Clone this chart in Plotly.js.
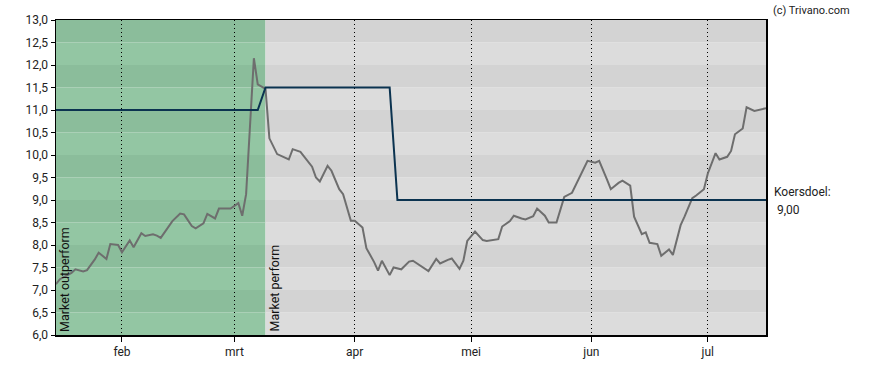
<!DOCTYPE html>
<html><head><meta charset="utf-8">
<script src="https://cdn.plot.ly/plotly-3.0.1.min.js"></script>
<style>html,body{margin:0;padding:0;background:#fff}#chart{width:888px;height:370px}</style>
</head><body><div id="chart"></div>
<script>
const priceDates = ['2024-01-15','2024-01-16','2024-01-19','2024-01-20','2024-01-22','2024-01-23','2024-01-25','2024-01-26','2024-01-28','2024-01-29','2024-01-31',
'2024-02-01','2024-02-03','2024-02-04','2024-02-06','2024-02-07','2024-02-09','2024-02-10','2024-02-11','2024-02-13','2024-02-14','2024-02-16','2024-02-17','2024-02-19','2024-02-20','2024-02-22','2024-02-23','2024-02-25','2024-02-26','2024-02-29',
'2024-03-02','2024-03-03','2024-03-04','2024-03-06','2024-03-07','2024-03-09','2024-03-10','2024-03-12','2024-03-15','2024-03-16','2024-03-18','2024-03-21','2024-03-22','2024-03-23','2024-03-25','2024-03-26','2024-03-28','2024-03-29','2024-03-31',
'2024-04-01','2024-04-03','2024-04-04','2024-04-06','2024-04-07','2024-04-08','2024-04-10','2024-04-11','2024-04-13','2024-04-15','2024-04-16','2024-04-17','2024-04-19','2024-04-20','2024-04-22','2024-04-23','2024-04-25','2024-04-26','2024-04-28','2024-04-29','2024-04-30',
'2024-05-02','2024-05-04','2024-05-05','2024-05-08','2024-05-09','2024-05-11','2024-05-12','2024-05-14','2024-05-15','2024-05-17','2024-05-18','2024-05-20','2024-05-21','2024-05-23','2024-05-24','2024-05-25','2024-05-27','2024-05-29','2024-05-31',
'2024-06-02','2024-06-03','2024-06-05','2024-06-06','2024-06-08','2024-06-09','2024-06-11','2024-06-12','2024-06-14','2024-06-15','2024-06-16','2024-06-18','2024-06-19','2024-06-21','2024-06-22','2024-06-24','2024-06-25','2024-06-27','2024-06-28','2024-06-30',
'2024-07-01','2024-07-03','2024-07-04','2024-07-06','2024-07-07','2024-07-08','2024-07-10','2024-07-11','2024-07-13','2024-07-16'];
const priceValues = [7.13,7.24,7.38,7.46,7.41,7.44,7.68,7.83,7.69,8.02,8.00,
7.84,8.10,7.95,8.26,8.20,8.24,8.21,8.16,8.42,8.53,8.70,8.68,8.42,8.37,8.48,8.69,8.59,8.81,8.81,
8.93,8.65,9.13,12.15,11.57,11.47,10.37,10.02,9.90,10.13,10.07,9.74,9.50,9.41,9.76,9.65,9.24,9.13,8.54,
8.54,8.39,7.93,7.62,7.43,7.65,7.33,7.50,7.46,7.63,7.65,7.59,7.46,7.42,7.69,7.59,7.67,7.70,7.47,7.65,8.09,
8.30,8.11,8.09,8.13,8.41,8.53,8.65,8.59,8.57,8.64,8.81,8.65,8.50,8.50,8.78,9.07,9.16,9.52,9.87,
9.83,9.87,9.46,9.24,9.38,9.43,9.32,8.63,8.24,8.28,8.05,8.02,7.76,7.90,7.78,8.44,8.63,9.04,9.10,9.24,
9.59,10.04,9.90,9.96,10.09,10.46,10.59,11.06,10.98,11.04];
const targetDates = ['2024-01-15','2024-03-07','2024-03-09','2024-04-10','2024-04-12','2024-07-16'];
const targetValues = [11.0,11.0,11.5,11.5,9.0,9.0];
const ratingStarts = ['2024-01-15','2024-03-09'];
const ratingEnds = ['2024-03-09','2024-07-16'];
const ratingLabels = ['Market outperform','Market perform'];
const monthTickDates = ['2024-02-01','2024-03-01','2024-04-01','2024-05-01','2024-06-01','2024-07-01'];
const monthTickLabels = ['feb','mrt','apr','mei','jun','jul'];
const yTickValues = [6,6.5,7,7.5,8,8.5,9,9.5,10,10.5,11,11.5,12,12.5,13];
const targetLabel = 'Koersdoel:';
const targetText = '9,00';
const creditText = '(c) Trivano.com';

const bandColors = [
  {light:'#93c6a3', dark:'#8bbd9b'},
  {light:'#dcdcdc', dark:'#d3d3d3'}
];
const shapes = [];
ratingStarts.forEach((s,i)=>{
  for (let k=0;k<yTickValues.length-1;k++){
    const y0=yTickValues[k], y1=yTickValues[k+1];
    shapes.push({type:'rect',layer:'below',xref:'x',yref:'y',x0:s,x1:ratingEnds[i],y0:y0,y1:y1,
      fillcolor:(k%2===1)?bandColors[i].dark:bandColors[i].light,line:{width:0}});
  }
});
const annotations = ratingLabels.map((t,i)=>({
  text:t, xref:'x', yref:'y', x:ratingStarts[i], y:6, xanchor:'left', yanchor:'bottom',
  textangle:-90, showarrow:false, xshift:-1, yshift:1, font:{family:'Roboto, sans-serif',size:12.5,color:'#111'}
}));
annotations.push({text:targetLabel,xref:'paper',yref:'y',x:1,y:9.0,xanchor:'left',yanchor:'middle',xshift:6,yshift:8,showarrow:false,font:{family:'Roboto, sans-serif',size:12,color:'#222'}});
annotations.push({text:targetText,xref:'paper',yref:'y',x:1,y:9.0,xanchor:'left',yanchor:'middle',xshift:9,yshift:-10,showarrow:false,font:{family:'Roboto, sans-serif',size:12,color:'#222'}});
annotations.push({text:creditText,xref:'paper',yref:'paper',x:1,y:1,xanchor:'left',yanchor:'bottom',xshift:5,yshift:1,showarrow:false,font:{family:'Roboto, sans-serif',size:11,color:'#222'}});

const data = [
  {x:priceDates,y:priceValues,type:'scatter',mode:'lines',line:{color:'#6e6e6e',width:2},hoverinfo:'skip'},
  {x:targetDates,y:targetValues,type:'scatter',mode:'lines',line:{color:'#0b3350',width:2},hoverinfo:'skip'}
];
const layout = {
  width:888,height:370,margin:{l:56,r:122,t:20,b:35},
  paper_bgcolor:'#fff',plot_bgcolor:'#fff',showlegend:false,separators:',.',
  font:{family:'Roboto, sans-serif',size:12,color:'#222'},
  xaxis:{type:'date',range:['2024-01-15','2024-07-16'],tickvals:monthTickDates,ticktext:monthTickLabels,
    showgrid:true,gridcolor:'#000',griddash:'1px,3px',gridwidth:1,ticks:'outside',ticklen:5,tickcolor:'#000',
    showline:true,linecolor:'#000',linewidth:1.5,mirror:true,zeroline:false,tickfont:{size:12,color:'#222'}},
  yaxis:{range:[6,13],tickvals:yTickValues,tickformat:'.1f',showgrid:false,ticks:'outside',ticklen:4,tickcolor:'#000',
    showline:true,linecolor:'#000',linewidth:1.5,mirror:true,zeroline:false,tickfont:{size:12,color:'#222'}},
  shapes:shapes,annotations:annotations
};
Plotly.newPlot('chart',data,layout,{staticPlot:true,displayModeBar:false});
</script></body></html>
